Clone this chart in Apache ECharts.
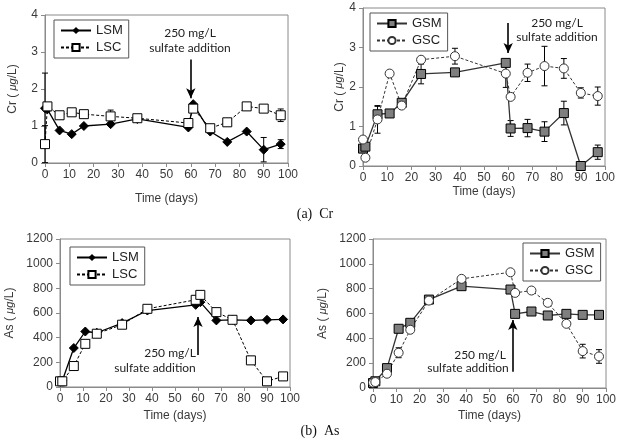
<!DOCTYPE html>
<html>
<head>
<meta charset="utf-8">
<script src="https://cdn.jsdelivr.net/npm/echarts@6/dist/echarts.min.js"></script>
<style>
  html, body { margin: 0; padding: 0; background: #fff; }
  #chart { width: 625px; height: 438px; }
</style>
</head>
<body>
<div id="chart"></div>
<script>
// sampling days
const daysL = [0, 1, 6, 11, 16, 27, 38, 59, 61, 68, 75, 83, 90, 97];
const daysG = [0, 1, 6, 11, 16, 24, 38, 59, 61, 68, 75, 83, 90, 97];

// (a) Cr, ug/L
const crLSM = [1.48, 1.45, 0.88, 0.78, 1.0, 1.05, 1.19, 0.96, 1.59, 0.85, 0.57, 0.85, 0.36, 0.51];
const crLSMErr = [0.95, 0, 0, 0, 0, 0, 0, 0, 0, 0, 0, 0, 0.33, 0.12];
const crLSC = [0.51, 1.53, 1.29, 1.37, 1.32, 1.26, 1.21, 1.08, 1.47, 0.94, 1.1, 1.53, 1.47, 1.29];
const crLSCErr = [0.5, 0, 0, 0, 0, 0.17, 0, 0, 0, 0, 0, 0, 0, 0.17];
const crGSM = [0.44, 0.49, 1.31, 1.33, 1.6, 2.33, 2.37, 2.61, 0.95, 0.96, 0.87, 1.34, 0, 0.35];
const crGSMErr = [0, 0.1, 0.2, 0, 0.08, 0.25, 0, 0, 0.2, 0.22, 0.25, 0.3, 0, 0.18];
const crGSC = [0.67, 0.21, 1.18, 2.34, 1.53, 2.69, 2.78, 2.34, 1.75, 2.36, 2.53, 2.47, 1.85, 1.77];
const crGSCErr = [0, 0, 0.35, 0, 0, 0, 0.2, 0.35, 0, 0.22, 0.5, 0.25, 0.13, 0.23];

// (b) As, ug/L
const asLSM = [46, 50, 316, 450, 440, 518, 620, 666, 688, 540, 545, 540, 545, 548];
const asLSC = [46, 46, 170, 350, 432, 505, 634, 707, 747, 607, 545, 216, 46, 86];
const asGSM = [40, 54, 160, 477, 525, 712, 820, 793, 597, 616, 584, 597, 589, 589];
const asGSC = [43, 48, 115, 284, 469, 704, 879, 932, 766, 785, 686, 517, 297, 254];
const asGSCErr = [0, 0, 0, 40, 0, 0, 0, 0, 0, 0, 25, 0, 55, 55];

// sulfate addition arrows [start, end] in data units
const arrowCrL = [[60, 2.8], [60, 1.75]];
const arrowCrG = [[60, 3.62], [60, 2.86]];
const arrowAsL = [[60, 260], [60, 568]];
const arrowAsG = [[60, 130], [60, 548]];

const crTicks = [0, 4, 1];
const asTicks = [0, 1200, 200];

const chart = echarts.init(document.getElementById('chart'));

const pair = (xs, ys) => xs.map((x, i) => [x, ys[i]]);
const errData = (xs, ys, es) => xs.map((x, i) => [x, ys[i] - es[i], ys[i] + es[i], es[i]]).filter(d => d[3] > 0);

const grids = [
  { left: 45, top: 15, width: 243, height: 148 },
  { left: 363, top: 8, width: 242, height: 158 },
  { left: 60, top: 239, width: 230, height: 148 },
  { left: 373, top: 239, width: 233, height: 149 }
].map(g => Object.assign(g, { show: true, borderColor: '#8a8a8a', borderWidth: 1, containLabel: false }));

const tickFont = { color: '#3a3a3a', fontSize: 12, fontFamily: 'Liberation Sans' };
const gaps = [30, 20, 23, 22];
const xAxes = grids.map((g, i) => ({
  gridIndex: i, type: 'value', min: 0, max: 100, interval: 10,
  name: 'Time (days)', nameLocation: 'middle', nameGap: gaps[i],
  nameTextStyle: { color: '#3a3a3a', fontSize: 12, fontFamily: 'Liberation Sans' },
  axisLine: { lineStyle: { color: '#8a8a8a' } },
  axisTick: { show: true, length: 4, lineStyle: { color: '#8a8a8a' } },
  axisLabel: Object.assign({ margin: 6, formatter: v => String(v) }, tickFont),
  splitLine: { show: false }
}));

const yGaps = [26, 15, 44, 44];
const yAxes = grids.map((g, i) => {
  const t = i < 2 ? crTicks : asTicks;
  const el = i < 2 ? 'Cr' : 'As';
  return {
    gridIndex: i, type: 'value', min: t[0], max: t[1], interval: t[2],
    name: '{n|' + el + ' ( }{i|μg}{n|/L)}', nameLocation: 'middle', nameGap: yGaps[i],
    nameTextStyle: {
      rich: {
        n: { color: '#3a3a3a', fontSize: 12, fontFamily: 'Liberation Sans' },
        i: { color: '#3a3a3a', fontSize: 11, fontStyle: 'italic', fontFamily: 'Liberation Sans' }
      }
    },
    axisLine: { show: true, lineStyle: { color: '#8a8a8a' } },
    axisTick: { show: true, length: 4, lineStyle: { color: '#8a8a8a' } },
    axisLabel: Object.assign({ margin: 7, formatter: v => String(v) }, tickFont),
    splitLine: { show: false }
  };
});

const styles = {
  LSM: { symbol: 'diamond', symbolSize: 9, itemStyle: { color: '#000', borderColor: '#000' }, lineStyle: { color: '#000', width: 1.3, type: 'solid' } },
  LSC: { symbol: 'rect', symbolSize: 9, itemStyle: { color: '#fff', borderColor: '#000', borderWidth: 1 }, lineStyle: { color: '#000', width: 1, type: [3, 2] } },
  GSM: { symbol: 'rect', symbolSize: 9, itemStyle: { color: '#7f7f7f', borderColor: '#000', borderWidth: 1 }, lineStyle: { color: '#333', width: 1.3, type: 'solid' } },
  GSC: { symbol: 'circle', symbolSize: 9, itemStyle: { color: '#fff', borderColor: '#333', borderWidth: 1 }, lineStyle: { color: '#333', width: 1, type: [3, 2] } }
};

function arrowLine(seg) {
  return {
    silent: true, symbol: ['none', 'arrow'], symbolSize: [7, 10],
    lineStyle: { color: '#000', width: 1.6, type: 'solid' },
    label: { show: false },
    data: [[{ coord: seg[0] }, { coord: seg[1] }]]
  };
}

function lineSeries(name, idx, xs, ys, arrow) {
  const s = Object.assign({
    name, type: 'line', xAxisIndex: idx, yAxisIndex: idx,
    data: pair(xs, ys), showAllSymbol: true, z: 3, animation: false
  }, styles[name]);
  if (arrow) s.markLine = arrowLine(arrow);
  return s;
}

function errSeries(idx, xs, ys, es) {
  return {
    type: 'custom', xAxisIndex: idx, yAxisIndex: idx, z: 2, silent: true, animation: false,
    data: errData(xs, ys, es),
    encode: { x: 0, y: [1, 2] },
    renderItem: (params, api) => {
      const lo = api.coord([api.value(0), api.value(1)]);
      const hi = api.coord([api.value(0), api.value(2)]);
      const st = { stroke: '#000', lineWidth: 1 };
      return {
        type: 'group',
        children: [
          { type: 'line', shape: { x1: lo[0], y1: lo[1], x2: hi[0], y2: hi[1] }, style: st },
          { type: 'line', shape: { x1: lo[0] - 3, y1: lo[1], x2: lo[0] + 3, y2: lo[1] }, style: st },
          { type: 'line', shape: { x1: hi[0] - 3, y1: hi[1], x2: hi[0] + 3, y2: hi[1] }, style: st }
        ]
      };
    }
  };
}

const series = [
  errSeries(0, daysL, crLSM, crLSMErr),
  errSeries(0, daysL, crLSC, crLSCErr),
  lineSeries('LSM', 0, daysL, crLSM, arrowCrL),
  lineSeries('LSC', 0, daysL, crLSC),
  errSeries(1, daysG, crGSM, crGSMErr),
  errSeries(1, daysG, crGSC, crGSCErr),
  lineSeries('GSM', 1, daysG, crGSM, arrowCrG),
  lineSeries('GSC', 1, daysG, crGSC),
  lineSeries('LSM', 2, daysL, asLSM, arrowAsL),
  lineSeries('LSC', 2, daysL, asLSC),
  errSeries(3, daysG, asGSC, asGSCErr),
  lineSeries('GSM', 3, daysG, asGSM, arrowAsG),
  lineSeries('GSC', 3, daysG, asGSC)
];

const legendBase = {
  orient: 'vertical', itemGap: 4, itemWidth: 30, itemHeight: 9,
  padding: [4, 6, 4, 6], borderColor: '#555', borderWidth: 1,
  textStyle: { color: '#222', fontSize: 13, fontFamily: 'Liberation Sans' },
  selectedMode: false
};
const legends = [
  { left: 54, top: 20, data: ['LSM', 'LSC'] },
  { left: 370, top: 13, data: ['GSM', 'GSC'] },
  { left: 70, top: 247, data: ['LSM', 'LSC'] },
  { left: 523, top: 243, data: ['GSM', 'GSC'] }
].map(l => Object.assign({}, legendBase, l));

const noteFont = { fill: '#222', fontSize: 12, fontFamily: 'Lato', textAlign: 'center' };
const note = (x, y, text) => ({ type: 'text', x, y, style: Object.assign({ text, textVerticalAlign: 'middle' }, noteFont) });
const capFont = { fill: '#111', fontSize: 14, fontFamily: 'Liberation Serif', textAlign: 'center', textVerticalAlign: 'middle' };

chart.setOption({
  animation: false,
  grid: grids,
  xAxis: xAxes,
  yAxis: yAxes,
  legend: legends,
  series,
  graphic: [
    note(190, 33, '250 mg/L'), note(190, 48, 'sulfate addition'),
    note(557, 23, '250 mg/L'), note(557, 37, 'sulfate addition'),
    note(170, 353, '250 mg/L'), note(155, 368, 'sulfate addition'),
    note(480, 355, '250 mg/L'), note(468, 368, 'sulfate addition'),
    { type: 'text', x: 315, y: 214, style: Object.assign({ text: '(a)  Cr' }, capFont) },
    { type: 'text', x: 320, y: 431, style: Object.assign({ text: '(b)  As' }, capFont) }
  ]
});
</script>
</body>
</html>
